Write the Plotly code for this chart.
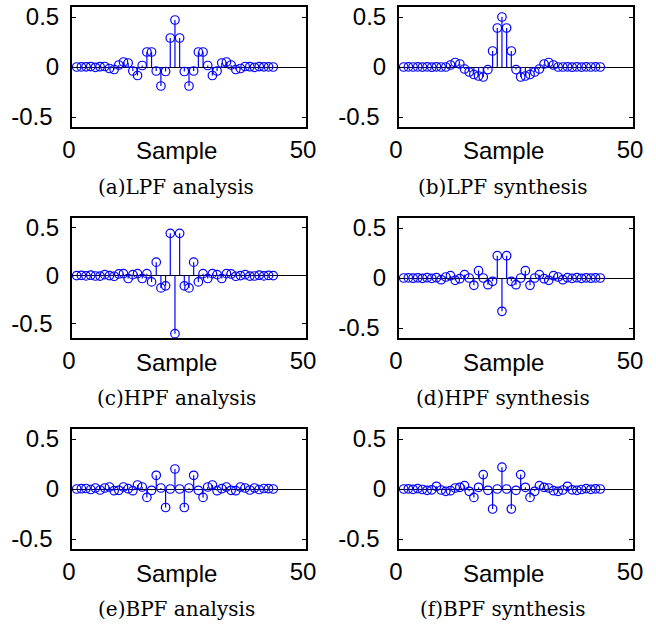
import plotly.graph_objects as go

W, H = 656, 626

samples = list(range(1, 44))

lpf_analysis = [0.0, 0.001, 0.002, 0.004, -0.003, 0.003, 0.005, -0.015, -0.025, 0.02, 0.05,
                0.04, -0.04, -0.085, 0.015, 0.15, 0.15, -0.04, -0.19, -0.045, 0.29, 0.47,
                0.29, -0.045, -0.19, -0.04, 0.15, 0.15, 0.015, -0.085, -0.04, 0.04, 0.05,
                0.02, -0.025, -0.015, 0.005, 0.003, -0.003, 0.004, 0.002, 0.001, 0.0]
lpf_synthesis = [0.0, 0.001, 0.0, 0.001, -0.001, 0.001, -0.002, 0.002, 0.0, 0.0, 0.02,
                 0.045, 0.03, -0.02, -0.05, -0.075, -0.09, -0.10, -0.026, 0.16, 0.39, 0.5,
                 0.39, 0.16, -0.026, -0.10, -0.09, -0.075, -0.05, -0.02, 0.03, 0.045, 0.02,
                 0.0, 0.0, 0.002, -0.002, 0.001, -0.001, 0.001, 0.0, 0.001, 0.0]
hpf_analysis = [0.0, 0.002, -0.003, 0.004, -0.004, -0.005, 0.01, 0.0, -0.007, 0.017, 0.02,
                -0.03, 0.01, 0.02, -0.03, 0.02, -0.066, 0.14, -0.128, -0.107, 0.44, -0.605,
                0.44, -0.107, -0.128, 0.14, -0.066, 0.02, -0.03, 0.02, 0.01, -0.03, 0.02,
                0.017, -0.007, 0.0, 0.01, -0.005, -0.004, 0.004, -0.003, 0.002, 0.0]
hpf_synthesis = [0.0, 0.001, -0.002, 0.002, -0.003, 0.003, -0.004, 0.003, -0.017, 0.01, 0.023,
                 -0.023, -0.007, 0.033, 0.0, -0.073, 0.073, 0.0, -0.067, -0.033, 0.223, -0.333,
                 0.223, -0.033, -0.067, 0.0, 0.073, -0.073, 0.0, 0.033, -0.007, -0.023, 0.023,
                 0.01, -0.017, 0.003, -0.004, 0.003, -0.003, 0.002, -0.002, 0.001, 0.0]
bpf_analysis = [0.0, 0.003, 0.005, -0.005, 0.01, -0.01, 0.01, 0.02, -0.017, -0.013, 0.02,
                0.003, -0.017, 0.04, 0.02, -0.084, -0.013, 0.137, 0.01, -0.185, 0.0, 0.2,
                0.0, -0.185, 0.01, 0.137, -0.013, -0.084, 0.02, 0.04, -0.017, 0.003, 0.02,
                -0.013, -0.017, 0.02, 0.01, -0.01, 0.01, -0.005, 0.005, 0.003, 0.0]
bpf_synthesis = [0.0, 0.002, -0.003, 0.004, -0.005, -0.013, -0.008, 0.027, -0.01, -0.023, -0.017,
                 0.01, 0.017, 0.034, -0.023, -0.084, 0.017, 0.144, -0.013, -0.2, 0.0, 0.218,
                 0.0, -0.2, -0.013, 0.144, 0.017, -0.084, -0.023, 0.034, 0.017, 0.01, -0.017,
                 -0.023, -0.01, 0.027, -0.008, -0.013, -0.005, 0.004, -0.003, 0.002, 0.0]

panels = [
    ("(a)LPF analysis", lpf_analysis, [-0.6, 0.6]),
    ("(b)LPF synthesis", lpf_synthesis, [-0.6, 0.6]),
    ("(c)HPF analysis", hpf_analysis, [-0.65, 0.6]),
    ("(d)HPF synthesis", hpf_synthesis, [-0.6, 0.6]),
    ("(e)BPF analysis", bpf_analysis, [-0.6, 0.6]),
    ("(f)BPF synthesis", bpf_synthesis, [-0.6, 0.6]),
]

x_ticks = [0, 50]
y_ticks = [-0.5, 0, 0.5]
y_ticktext = ["-0.5\u00a0", "0", "0.5"]

col_px = [(72, 306), (399, 633)]
row_px = [(7, 127), (218, 338), (429, 549)]

BLUE = "#0000ff"
tick_font = dict(family="Liberation Sans, Arial, sans-serif", size=24, color="black")
cap_font = dict(family="DejaVu Serif, serif", size=20, color="black")

fig = go.Figure()
layout = dict(width=W, height=H, margin=dict(l=0, r=0, t=0, b=0, autoexpand=False),
              paper_bgcolor="white", plot_bgcolor="white", showlegend=False,
              annotations=[])

for i, (cap, vals, yr) in enumerate(panels):
    r, c = divmod(i, 2)
    k = "" if i == 0 else str(i + 1)
    xs, ys = [], []
    for s, v in zip(samples, vals):
        xs += [s, s, None]
        ys += [0, v, None]
    fig.add_trace(go.Scatter(x=xs, y=ys, mode="lines", line=dict(color=BLUE, width=1.2),
                             xaxis="x" + k, yaxis="y" + k, hoverinfo="skip"))
    fig.add_trace(go.Scatter(x=samples, y=vals, mode="markers",
                             marker=dict(symbol="circle-open", size=8.5, color=BLUE,
                                         line=dict(width=1.2, color=BLUE)),
                             xaxis="x" + k, yaxis="y" + k))
    x0, x1 = col_px[c]
    y0, y1 = row_px[r]
    common = dict(showline=True, mirror="ticks", linecolor="black", linewidth=2,
                  ticks="inside", ticklen=4, tickcolor="black", showgrid=False,
                  tickfont=tick_font, automargin=False)
    layout["xaxis" + k] = dict(domain=[x0 / W, x1 / W], range=[0, 50], tickvals=x_ticks,
                               ticktext=[str(t) for t in x_ticks], anchor="y" + k,
                               zeroline=False, ticklabelstandoff=0, ticklabelshift=-3,
                               **common)
    layout["yaxis" + k] = dict(domain=[1 - y1 / H, 1 - y0 / H], range=yr, tickvals=y_ticks,
                               ticktext=y_ticktext, anchor="x" + k,
                               zeroline=True, zerolinecolor="black", zerolinewidth=1,
                               ticklabelstandoff=6, **common)
    cx = (x0 + x1) / 2 - 13
    layout["annotations"].append(dict(text="Sample", x=cx / W, y=1 - (y1 + 24) / H,
                                      xref="paper", yref="paper", showarrow=False,
                                      xanchor="center", yanchor="middle", font=tick_font))
    layout["annotations"].append(dict(text=cap, x=cx / W, y=1 - (y1 + 60) / H,
                                      xref="paper", yref="paper", showarrow=False,
                                      xanchor="center", yanchor="middle", font=cap_font))

fig.update_layout(**layout)
fig.write_html("out.html", config={"displayModeBar": False},
               post_script="document.body.style.margin='0px';document.body.style.overflow='hidden';")
